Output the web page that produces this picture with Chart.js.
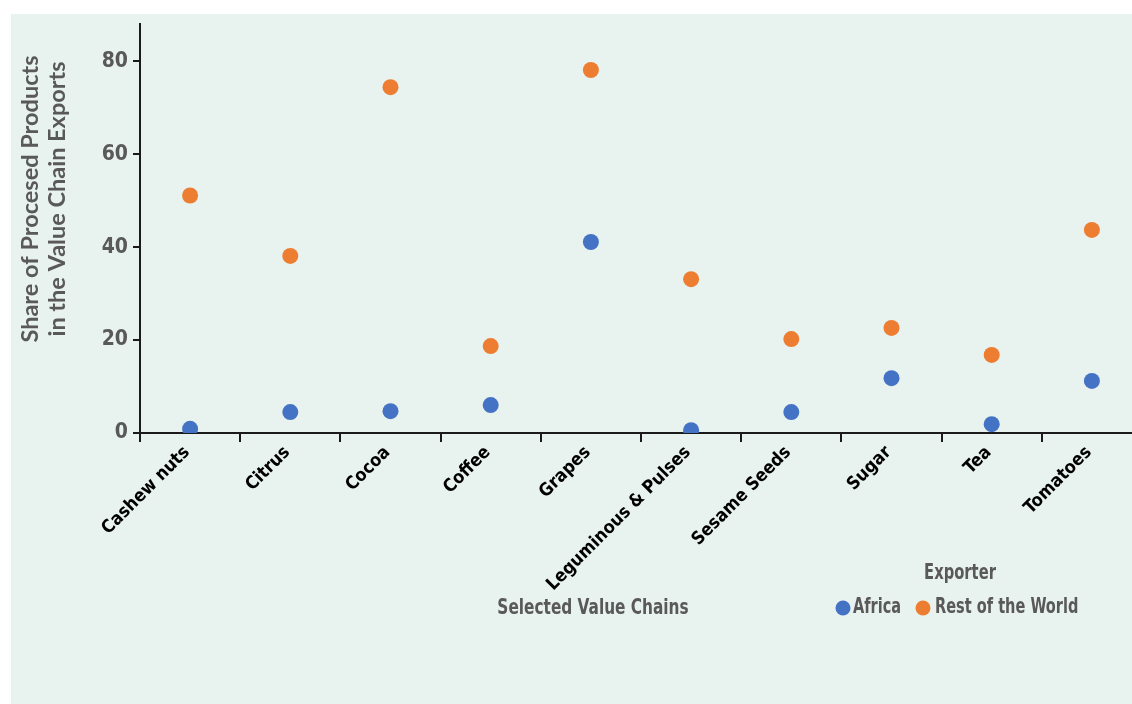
<!DOCTYPE html>
<html>
<head>
<meta charset="utf-8">
<script src="https://cdn.jsdelivr.net/npm/chart.js@4.4.1/dist/chart.umd.min.js"></script>
<style>
  html, body { margin: 0; padding: 0; background: #ffffff; overflow: hidden; width: 1132px; height: 704px; }
  #panel { position: absolute; left: 11px; top: 14px; width: 1121px; height: 690px; background: #e8f2ee; }
  #wrap { position: absolute; left: 0; top: 0; width: 1160px; height: 704px; }
</style>
</head>
<body>
<div id="panel"></div>
<div id="wrap"><canvas id="c" width="1160" height="704"></canvas></div>
<script>
const categories = ["Cashew nuts", "Citrus", "Cocoa", "Coffee", "Grapes", "Leguminous & Pulses", "Sesame Seeds", "Sugar", "Tea", "Tomatoes"];
const africa = [0.9, 4.5, 4.7, 6.0, 41.1, 0.6, 4.5, 11.8, 1.9, 11.2];
const restOfWorld = [51.1, 38.1, 74.4, 18.7, 78.1, 33.1, 20.2, 22.6, 16.8, 43.7];
const yTicks = [0, 20, 40, 60, 80];
const seriesNames = ["Africa", "Rest of the World"];
const seriesColors = ["#4472C4", "#ED7D31"];
const yTitle = ["Share of Procesed Products", "in the Value Chain Exports"];
const xTitle = "Selected Value Chains";
const legendTitle = "Exporter";

const condensed = '"Liberation Sans Narrow", "DejaVu Sans Condensed", sans-serif';
const gray = '#595959';

function drawNarrow(ctx, text, x, y, align, sx) {
  ctx.save();
  ctx.translate(x, y);
  ctx.scale(sx, 1);
  ctx.textAlign = align;
  ctx.textBaseline = 'middle';
  ctx.fillText(text, 0, 0);
  ctx.restore();
}

const textPlugin = {
  id: 'textPlugin',
  afterDraw(chart) {
    const ctx = chart.ctx;
    ctx.save();
    // Y axis title
    ctx.fillStyle = gray;
    ctx.font = 'bold 23.5px Lato, sans-serif';
    ctx.textAlign = 'center';
    ctx.textBaseline = 'middle';
    ctx.translate(30, 199);
    ctx.rotate(-Math.PI / 2);
    ctx.fillText(yTitle[0], 0, 0);
    ctx.fillText(yTitle[1], 0, 27);
    ctx.restore();

    ctx.save();
    ctx.fillStyle = gray;
    ctx.font = 'bold 22px ' + condensed;
    drawNarrow(ctx, xTitle, 593, 608, 'center', 0.775);
    ctx.font = 'bold 21px ' + condensed;
    drawNarrow(ctx, legendTitle, 960, 574, 'center', 0.78);
    // legend items
    const items = [{x: 843, tx: 853}, {x: 923, tx: 935}];
    chart.data.datasets.forEach((ds, i) => {
      ctx.beginPath();
      ctx.fillStyle = ds.backgroundColor;
      ctx.arc(items[i].x, 608, 7.5, 0, Math.PI * 2);
      ctx.fill();
      ctx.fillStyle = gray;
      drawNarrow(ctx, ds.label, items[i].tx, 608, 'left', 0.77);
    });
    ctx.restore();
  }
};

new Chart(document.getElementById('c'), {
  type: 'line',
  data: {
    labels: categories,
    datasets: [
      { label: seriesNames[0], data: africa, showLine: false, backgroundColor: seriesColors[0], borderColor: seriesColors[0], pointRadius: 8, pointBorderWidth: 0, pointHoverRadius: 8 },
      { label: seriesNames[1], data: restOfWorld, showLine: false, backgroundColor: seriesColors[1], borderColor: seriesColors[1], pointRadius: 8, pointBorderWidth: 0, pointHoverRadius: 8 }
    ]
  },
  options: {
    responsive: false,
    devicePixelRatio: 1,
    animation: false,
    layout: { padding: { left: 0, top: 24, right: 18, bottom: 0 } },
    plugins: { legend: { display: false }, tooltip: { enabled: false } },
    scales: {
      x: {
        type: 'category',
        offset: true,
        grid: { display: true, drawOnChartArea: false, offset: true, tickLength: 9, color: '#1a1a1a', lineWidth: 2 },
        border: { display: true, color: '#1a1a1a', width: 2 },
        ticks: { color: '#000000', font: { family: condensed, size: 18, weight: 'bold' }, minRotation: 45, maxRotation: 45, padding: 0, labelOffset: -3, autoSkip: false },
        afterFit(scale) { scale.height = 271; }
      },
      y: {
        min: 0, max: 88,
        grid: { display: true, drawOnChartArea: false, tickLength: 7, color: '#1a1a1a', lineWidth: 2 },
        border: { display: true, color: '#1a1a1a', width: 2 },
        ticks: { color: gray, font: { family: condensed, size: 21, weight: 'bold' }, padding: 5, stepSize: 20 },
        afterBuildTicks(scale) { scale.ticks = yTicks.map(v => ({ value: v })); },
        afterFit(scale) { scale.width = 140; }
      }
    }
  },
  plugins: [textPlugin]
});
</script>
</body>
</html>
